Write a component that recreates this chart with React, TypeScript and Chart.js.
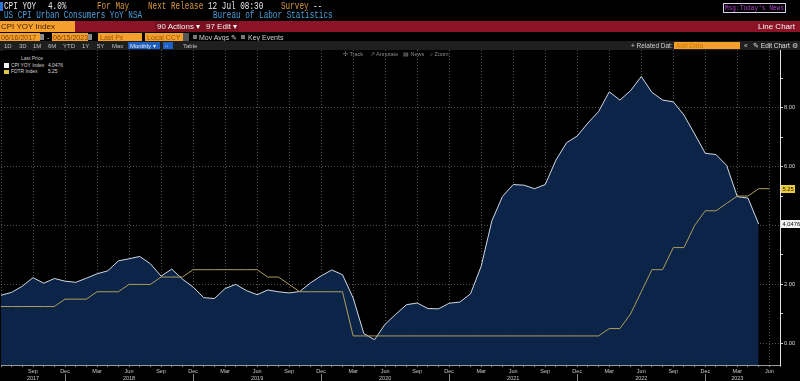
import React, { useEffect, useRef } from "react";
import { Chart, registerables } from "chart.js";
Chart.register(...registerables);

const categories = [
  "Jun 2017", "Jul 2017", "Aug 2017", "Sep 2017", "Oct 2017", "Nov 2017", "Dec 2017",
  "Jan 2018", "Feb 2018", "Mar 2018", "Apr 2018", "May 2018", "Jun 2018", "Jul 2018", "Aug 2018", "Sep 2018", "Oct 2018", "Nov 2018", "Dec 2018",
  "Jan 2019", "Feb 2019", "Mar 2019", "Apr 2019", "May 2019", "Jun 2019", "Jul 2019", "Aug 2019", "Sep 2019", "Oct 2019", "Nov 2019", "Dec 2019",
  "Jan 2020", "Feb 2020", "Mar 2020", "Apr 2020", "May 2020", "Jun 2020", "Jul 2020", "Aug 2020", "Sep 2020", "Oct 2020", "Nov 2020", "Dec 2020",
  "Jan 2021", "Feb 2021", "Mar 2021", "Apr 2021", "May 2021", "Jun 2021", "Jul 2021", "Aug 2021", "Sep 2021", "Oct 2021", "Nov 2021", "Dec 2021",
  "Jan 2022", "Feb 2022", "Mar 2022", "Apr 2022", "May 2022", "Jun 2022", "Jul 2022", "Aug 2022", "Sep 2022", "Oct 2022", "Nov 2022", "Dec 2022",
  "Jan 2023", "Feb 2023", "Mar 2023", "Apr 2023", "May 2023", "Jun 2023", "Jul 2023",
];

const cpiYoY: (number | null)[] = [
  1.63, 1.73, 1.94, 2.23, 2.04, 2.2, 2.11,
  2.07, 2.21, 2.36, 2.46, 2.8, 2.87, 2.95, 2.7, 2.28, 2.52, 2.18, 1.91,
  1.55, 1.52, 1.86, 2.0, 1.79, 1.65, 1.81, 1.75, 1.71, 1.76, 2.05, 2.29,
  2.49, 2.33, 1.54, 0.33, 0.12, 0.65, 0.99, 1.31, 1.37, 1.18, 1.17, 1.36,
  1.4, 1.68, 2.62, 4.16, 4.99, 5.39, 5.37, 5.25, 5.39, 6.22, 6.81, 7.04,
  7.48, 7.87, 8.54, 8.26, 8.58, 9.06, 8.52, 8.26, 8.2, 7.75, 7.11, 6.45,
  6.41, 6.04, 4.98, 4.93, 4.0476, null, null,
];

const fdtr: (number | null)[] = [
  1.25, 1.25, 1.25, 1.25, 1.25, 1.25, 1.5,
  1.5, 1.5, 1.75, 1.75, 1.75, 2.0, 2.0, 2.0, 2.25, 2.25, 2.25, 2.5,
  2.5, 2.5, 2.5, 2.5, 2.5, 2.5, 2.25, 2.25, 2.0, 1.75, 1.75, 1.75,
  1.75, 1.75, 0.25, 0.25, 0.25, 0.25, 0.25, 0.25, 0.25, 0.25, 0.25, 0.25,
  0.25, 0.25, 0.25, 0.25, 0.25, 0.25, 0.25, 0.25, 0.25, 0.25, 0.25, 0.25,
  0.25, 0.25, 0.5, 0.5, 1.0, 1.75, 2.5, 2.5, 3.25, 3.25, 4.0, 4.5,
  4.5, 4.75, 5.0, 5.0, 5.25, 5.25, null,
];

const quarterMonths = ["Mar", "Jun", "Sep", "Dec"];
const yearLabelAt = ["Sep 2017", "Jun 2018", "Jun 2019", "Jun 2020", "Jun 2021", "Jun 2022", "Mar 2023"];
const yTickValues = [0, 1, 2, 3, 4, 5, 6, 7, 8, 9];
const labeledYTicks = [0, 2, 4, 6, 8];
const cpiLastLabel = "4.0476";
const fdtrLastLabel = "5.25";

const SANS = "'Liberation Sans', Arial, sans-serif";
const MONO = "'Liberation Mono', 'DejaVu Sans Mono', monospace";

function isQuarter(i: number) {
  const c = categories[i];
  return !!c && quarterMonths.includes(c.slice(0, 3));
}

function lastValue(arr: (number | null)[]) {
  for (let i = arr.length - 1; i >= 0; i--) if (arr[i] != null) return arr[i] as number;
  return 0;
}

const overlayPlugin = {
  id: "overlayMarks",
  afterDraw(chart: any) {
    const { ctx, chartArea, scales } = chart;
    const xs = scales.x;
    const ys = scales.y;
    ctx.save();
    ctx.strokeStyle = "#8a8a8a";
    ctx.lineWidth = 1;
    categories.forEach((c, i) => {
      if (c.startsWith("Dec")) {
        const px = Math.round(xs.getPixelForValue(i)) + 0.5;
        ctx.beginPath();
        ctx.moveTo(px, chartArea.bottom + 9);
        ctx.lineTo(px, chart.height);
        ctx.stroke();
      }
    });
    const drawBox = (val: number, text: string, bg: string, fg: string, w: number) => {
      const py = ys.getPixelForValue(val);
      ctx.fillStyle = bg;
      ctx.fillRect(chartArea.right + 1, Math.round(py - 4), w, 8);
      ctx.fillStyle = fg;
      ctx.font = `5.8px ${SANS}`;
      ctx.textBaseline = "middle";
      ctx.textAlign = "left";
      ctx.fillText(text, chartArea.right + 2.5, py + 0.5);
    };
    drawBox(lastValue(fdtr), fdtrLastLabel, "#eccb3c", "#1a1400", 14);
    drawBox(lastValue(cpiYoY), cpiLastLabel, "#f2f2f2", "#111", 19);
    ctx.restore();
  },
};

type TP = { x: number; y: number; c?: string; s?: number; mono?: boolean; sx?: number; children?: React.ReactNode };
function T({ x, y, c = "#ddd", s = 7, mono = false, sx = 1, children }: TP) {
  return (
    <div
      style={{
        position: "absolute",
        left: x,
        top: y,
        color: c,
        fontSize: s,
        lineHeight: `${s}px`,
        fontFamily: mono ? MONO : SANS,
        whiteSpace: "pre",
        transform: sx !== 1 ? `scaleX(${sx})` : undefined,
        transformOrigin: "0 0",
      }}
    >
      {children}
    </div>
  );
}

type RP = { x: number; y: number; w: number; h: number; bg?: string; border?: string };
function R({ x, y, w, h, bg, border }: RP) {
  return (
    <div
      style={{
        position: "absolute",
        left: x,
        top: y,
        width: w,
        height: h,
        background: bg,
        border,
        boxSizing: "border-box",
      }}
    />
  );
}

export default function App() {
  const canvasRef = useRef<HTMLCanvasElement | null>(null);

  useEffect(() => {
    if (!canvasRef.current) return;
    Chart.defaults.font.family = SANS;
    const gridCol = "rgba(150,150,150,0.55)";
    const chart = new Chart(canvasRef.current, {
      type: "line",
      data: {
        labels: categories,
        datasets: [
          {
            label: "FDTR Index",
            data: fdtr,
            borderColor: "#ad9e5c",
            borderWidth: 1,
            pointRadius: 0,
            fill: false,
            tension: 0,
            order: 0,
          },
          {
            label: "CPI YOY Index",
            data: cpiYoY,
            borderColor: "#d2d9e3",
            borderWidth: 1,
            pointRadius: 0,
            fill: "start",
            backgroundColor: "#0b2448",
            tension: 0,
            order: 1,
          },
        ],
      },
      options: {
        responsive: false,
        maintainAspectRatio: false,
        animation: false,
        devicePixelRatio: 1,
        events: [],
        layout: { padding: { top: 50, left: 0, right: 0, bottom: 0 } },
        plugins: { legend: { display: false }, tooltip: { enabled: false } },
        scales: {
          x: {
            type: "category",
            offset: false,
            z: 1,
            afterFit: (s: any) => {
              s.height = 16;
            },
            grid: {
              color: (c: any) => (isQuarter(c.index) ? gridCol : "transparent"),
              tickColor: "#8a8a8a",
              tickLength: 2,
              offset: false,
            },
            border: { display: true, color: "#9a9a9a", width: 1, dash: [1, 2] },
            ticks: {
              autoSkip: false,
              maxRotation: 0,
              minRotation: 0,
              color: "#c8c8c8",
              font: { size: 5.5, lineHeight: 1.25 },
              padding: 1,
              callback: (_v: any, index: number) => {
                if (index === 0) return "";
                const c = categories[index];
                const m = c.slice(0, 3);
                if (!quarterMonths.includes(m)) return "";
                return yearLabelAt.includes(c) ? [m, c.slice(4)] : m;
              },
            },
          },
          y: {
            position: "right",
            min: -0.737,
            max: 9.96,
            z: 1,
            afterBuildTicks: (s: any) => {
              s.ticks = yTickValues.map((v) => ({ value: v }));
            },
            afterFit: (s: any) => {
              s.width = 20;
            },
            grid: {
              color: (c: any) => (c.tick && labeledYTicks.includes(c.tick.value) ? gridCol : "transparent"),
              tickColor: "#cfcfcf",
              tickLength: 3,
            },
            border: { display: true, color: "#e0e0e0", width: 1, dash: [1, 2] },
            ticks: {
              color: "#d8d8d8",
              font: { size: 5.7 },
              padding: 1,
              callback: (v: any) => (labeledYTicks.includes(Number(v)) ? Number(v).toFixed(2) : ""),
            },
          },
        },
      },
      plugins: [overlayPlugin],
    } as any);
    return () => chart.destroy();
  }, []);

  const orange = "#f5a02c";
  const orangeText = "#d9963f";
  const red = "#8c1426";

  return (
    <div
      style={{
        position: "fixed",
        left: 0,
        top: 0,
        width: 800,
        height: 381,
        background: "#000",
        overflow: "hidden",
      }}
    >
      <canvas ref={canvasRef} width={800} height={381} style={{ position: "absolute", left: 0, top: 0, display: "block" }} />

      {/* Row 1 */}
      <R x={0} y={2} w={3} h={9} bg="#2f72d8" />
      <T x={4} y={1.6} s={10} mono sx={0.767} c="#e8e8e8">CPI YOY</T>
      <T x={48} y={1.6} s={10} mono sx={0.767} c="#e8e8e8">4.0%</T>
      <T x={97} y={1.6} s={10} mono sx={0.767} c={orangeText}>For May</T>
      <T x={148} y={1.6} s={10} mono sx={0.767} c={orangeText}>Next Release</T>
      <T x={208} y={1.6} s={10} mono sx={0.767} c="#e8e8e8">12 Jul 08:30</T>
      <T x={281} y={1.6} s={10} mono sx={0.767} c={orangeText}>Survey</T>
      <T x={313} y={1.6} s={10} mono sx={0.767} c="#e8e8e8">--</T>
      <R x={723} y={3} w={63} h={10} border="1px solid #d8cce6" />
      <T x={725} y={4} s={8} mono sx={0.767} c="#b045cc">Msg:Today's News</T>

      {/* Row 2 */}
      <T x={4} y={11} s={10} mono sx={0.767} c="#4f9fdc">US CPI Urban Consumers YoY NSA</T>
      <T x={213} y={11} s={10} mono sx={0.767} c="#4f9fdc">Bureau of Labor Statistics</T>

      {/* Row 3 red bar */}
      <R x={0} y={21} w={800} h={11} bg={red} />
      <R x={0} y={21} w={75} h={11} bg={orange} />
      <T x={1} y={22.5} s={8} c="#3a1c00">CPI YOY Index</T>
      <R x={155} y={21} w={49} h={11} bg="#7a0f1f" />
      <T x={157} y={22.5} s={8} c="#f0f0f0">90 Actions ▾</T>
      <R x={204} y={21} w={35} h={11} bg="#7a0f1f" />
      <T x={206} y={22.5} s={8} c="#f0f0f0">97 Edit ▾</T>
      <T x={758} y={22.5} s={8} c="#f4f4f4">Line Chart</T>

      {/* Row 4 */}
      <R x={0} y={33} w={40} h={8} bg={orange} />
      <T x={1} y={34} s={7} c="#7a4200">06/16/2017</T>
      <R x={40} y={34} w={4} h={6} bg="#8a8a8a" />
      <T x={47} y={34} s={7} c="#ddd">-</T>
      <R x={52} y={33} w={36} h={8} bg={orange} />
      <T x={53} y={34} s={7} c="#7a4200">06/15/2023</T>
      <R x={88} y={34} w={4} h={6} bg="#8a8a8a" />
      <R x={98} y={33} w={44} h={8} bg={orange} />
      <T x={100} y={34} s={7} c="#9a5200">Last Px</T>
      <R x={145} y={33} w={38} h={8} bg={orange} />
      <T x={147} y={34} s={7} c="#9a5200">Local CCY</T>
      <R x={183} y={33} w={6} h={8} bg="#555" />
      <R x={193} y={35} w={4} h={4} bg="#777" />
      <T x={199} y={34} s={7} c="#cfcfcf">Mov Avgs ✎</T>
      <R x={241} y={35} w={4} h={4} bg="#777" />
      <T x={248} y={34} s={7} c="#cfcfcf">Key Events</T>

      {/* Row 5 toolbar band */}
      <R x={0} y={41} w={800} h={9} bg="#1f1f1f" />
      <T x={4} y={43} s={6} c="#c0c0c0">1D</T>
      <T x={19} y={43} s={6} c="#c0c0c0">3D</T>
      <T x={33} y={43} s={6} c="#c0c0c0">1M</T>
      <T x={48} y={43} s={6} c="#c0c0c0">6M</T>
      <T x={63} y={43} s={6} c="#c0c0c0">YTD</T>
      <T x={82} y={43} s={6} c="#c0c0c0">1Y</T>
      <T x={97} y={43} s={6} c="#c0c0c0">5Y</T>
      <T x={112} y={43} s={6} c="#c0c0c0">Max</T>
      <R x={128} y={42} w={32} h={7} bg="#1e5fc2" />
      <T x={130} y={43} s={6} c="#eaeaea">Monthly ▾</T>
      <R x={163} y={42} w={10} h={7} bg="#1e5fc2" />
      <T x={165} y={43} s={6} c="#9fc6ff">⌗</T>
      <T x={183} y={43} s={6} c="#c0c0c0">Table</T>
      <T x={631} y={43} s={6.5} c="#d0d0d0">+ Related Dat:</T>
      <R x={674} y={42} w={66} h={7} bg={orange} />
      <T x={676} y={43} s={6.5} c="#c87800">Add Data</T>
      <T x={744} y={43} s={6.5} c="#d0d0d0">«</T>
      <T x={753} y={43} s={6.5} c="#e0e0e0">✎ Edit Chart</T>
      <T x={792} y={43} s={6.5} c="#d0d0d0">⚙</T>

      {/* Row 6 chart tools */}
      <T x={343} y={52} s={5.5} c="#8a8a8a">✣ Track</T>
      <T x={370} y={52} s={5.5} c="#8a8a8a">↗ Annotate</T>
      <T x={403} y={52} s={5.5} c="#8a8a8a">▤ News</T>
      <T x={430} y={52} s={5.5} c="#8a8a8a">⌕ Zoom</T>

      {/* Legend */}
      <R x={0} y={53} w={68} h={25} bg="#000" />
      <T x={21} y={56} s={5.8} sx={0.85} c="#c8c8c8">Last Price</T>
      <R x={4} y={63} w={5} h={4.5} bg="#f4f4f4" />
      <T x={11} y={62.8} s={5.8} sx={0.85} c="#d8d8d8">CPI YOY Index</T>
      <T x={48} y={62.8} s={5.8} sx={0.85} c="#d8d8d8">{cpiLastLabel}</T>
      <R x={4} y={69.5} w={5} h={4.5} bg="#e0c844" />
      <T x={11} y={69} s={5.8} sx={0.85} c="#d8d8d8">FDTR Index</T>
      <T x={48} y={69} s={5.8} sx={0.85} c="#d8d8d8">{fdtrLastLabel}</T>
    </div>
  );
}
